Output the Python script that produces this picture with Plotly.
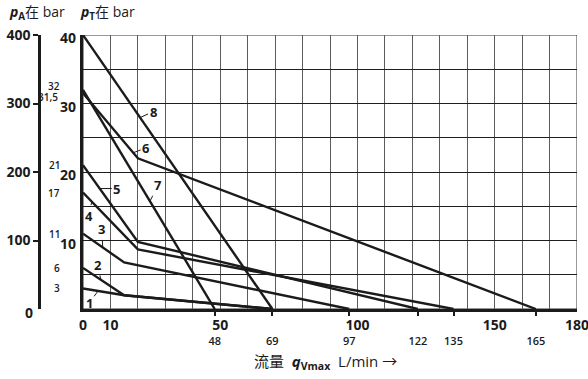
import numpy as np
import plotly.graph_objects as go

# Characteristic curves p_T over q_Vmax: start pressure, optional knee, end flow
curve_names = ["1", "2", "3", "4", "5", "6", "7", "8"]
start_pressure = [3, 6, 11, 17, 21, 31.5, 32, 40]          # bar at q = 0
knee_flow = [15, 15, 15, 20, 20, 20, None, None]           # L/min
knee_pressure = [2, 2, 6.8, 8.7, 9.8, 22, None, None]      # bar
end_flow = [69, 69, 97, 135, 122, 165, 48, 69]             # L/min at p_T = 0

# Small start-value labels on the p_T axis
start_labels = ["3", "6", "11", "17", "21", "31,5", "32"]
start_values = [3, 6, 11, 17, 21, 31.5, 32]

# Axis tick values
x_major = [0, 10, 50, 100, 150, 180]
y_labelled = [10, 20, 30, 40]
pa_ticks = [100, 200, 300, 400]

# Where each curve number sits (flow on the curve, text offset in px)
label_flow = [5.5, 6.5, 7.2, 3.2, 6.1, 18.3, 24.4, 20.8]
label_dx = [-9, -3, -1, -3, 17, 13, 8, 13]
label_dy = [12, -15, -18, 14, 0, -5, -16, -6]

W, H = 588, 379
L_PX, R_PX, T_PX, B_PX = 83, 577, 35, 309
INK = "#1b1b1b"
FONT = "Open Sans, Noto Sans CJK SC, DejaVu Sans"

fig = go.Figure()

for i, name in enumerate(curve_names):
    qs = [0]
    ps = [start_pressure[i]]
    if knee_flow[i] is not None:
        qs.append(knee_flow[i])
        ps.append(knee_pressure[i])
    qs.append(end_flow[i])
    ps.append(0)
    fig.add_trace(go.Scatter(x=qs, y=ps, mode="lines",
                             line=dict(color=INK, width=2.4),
                             showlegend=False, hoverinfo="skip"))
    qa = label_flow[i]
    pa = float(np.interp(qa, qs, ps))
    fig.add_annotation(x=qa, y=pa, text=name, showarrow=True, arrowhead=0,
                       arrowwidth=1, arrowcolor=INK, ax=label_dx[i], ay=label_dy[i],
                       standoff=0, font=dict(family=FONT, size=13, color=INK, weight=700))

# invisible carriers for the secondary axes
end_ticks = sorted(set(end_flow))
fig.add_trace(go.Scatter(x=end_ticks, y=[0] * len(end_ticks),
                         xaxis="x2", mode="markers", marker=dict(opacity=0),
                         showlegend=False, hoverinfo="skip"))
fig.add_trace(go.Scatter(x=[0] * len(start_pressure), y=[p * 10 for p in start_pressure],
                         yaxis="y2", mode="markers", marker=dict(opacity=0),
                         showlegend=False, hoverinfo="skip"))

# start-value ticks and labels left of the p_T axis
for lab, val in zip(start_labels, start_values):
    fig.add_shape(type="line", xref="x", yref="y", xsizemode="pixel", xanchor=0,
                  x0=-6, x1=0, y0=val, y1=val, line=dict(color=INK, width=1.3))
    shift = 4 if lab == "32" else (-4 if lab == "31,5" else 0)
    xs = -23 if lab == "31,5" else -21
    fig.add_annotation(x=0, y=val, xref="x", yref="y", text=lab, showarrow=False,
                       xanchor="right", xshift=xs, yshift=shift,
                       font=dict(family=FONT, size=10, color=INK, weight=600))

# p_T scale numbers, sitting just under their grid lines
for v in y_labelled:
    fig.add_annotation(x=0, y=v, xref="x", yref="y", text=str(v), showarrow=False,
                       xanchor="right", xshift=-5, yshift=-2.5,
                       font=dict(family=FONT, size=14, color=INK, weight=700))

# thin frame round the grid
fig.add_shape(type="rect", xref="x", yref="y", x0=0, x1=180, y0=0, y1=40,
              line=dict(color="#333", width=1), layer="below")

x_ticks = list(range(0, 181, 10))
y_ticks = list(range(0, 41, 5))

fig.update_layout(
    width=W, height=H,
    margin=dict(l=0, r=0, t=T_PX, b=H - B_PX, autoexpand=False),
    paper_bgcolor="white", plot_bgcolor="white",
    font=dict(family=FONT, color=INK),
    xaxis=dict(domain=[L_PX / W, R_PX / W], range=[0, 180],
               tickmode="array", tickvals=x_ticks,
               ticktext=[str(v) if v in x_major else "" for v in x_ticks],
               showgrid=True, gridcolor="#5c5c5c", gridwidth=1,
               showline=True, linecolor=INK, linewidth=2.6,
               ticks="", zeroline=False, ticklabelstandoff=1,
               ticklabeloverflow="allow",
               tickfont=dict(family=FONT, size=14, color=INK, weight=700)),
    xaxis2=dict(overlaying="x", anchor="y", side="bottom", range=[0, 180],
                tickmode="array", tickvals=end_ticks,
                ticktext=[str(v) for v in end_ticks],
                ticks="outside", ticklen=6, tickwidth=1.5, tickcolor=INK,
                showgrid=False, showline=False, zeroline=False,
                ticklabelstandoff=16,
                tickfont=dict(family=FONT, size=11, color=INK, weight=600)),
    yaxis=dict(domain=[0, 1], range=[0, 40],
               tickmode="array", tickvals=y_ticks,
               showticklabels=False,
               showgrid=True, gridcolor="#1e1e1e", gridwidth=1,
               showline=True, linecolor=INK, linewidth=2.6,
               ticks="", zeroline=False),
    yaxis2=dict(overlaying="y", anchor="free", position=39.3 / W, side="left",
                range=[0, 400], tickmode="array", tickvals=pa_ticks,
                ticks="outside", ticklen=5, tickwidth=1.5, tickcolor=INK,
                showgrid=False, showline=True, linecolor=INK, linewidth=3,
                zeroline=False, ticklabeloverflow="allow",
                tickfont=dict(family=FONT, size=14, color=INK, weight=700)),
)

# lone zero of the p_A scale
fig.add_annotation(x=22.7 / W, y=0, xref="paper", yref="y", text="0", showarrow=False,
                   yshift=-3, font=dict(family=FONT, size=14, color=INK, weight=700))

# axis headings
fig.add_annotation(x=7 / W, y=1 + (T_PX - 13) / (B_PX - T_PX), xref="paper", yref="paper",
                   xanchor="left", yanchor="middle", showarrow=False,
                   text="<b><i>p</i></b><sub><b>A</b></sub>在 bar",
                   font=dict(family=FONT, size=14, color=INK))
fig.add_annotation(x=78 / W, y=1 + (T_PX - 13) / (B_PX - T_PX), xref="paper", yref="paper",
                   xanchor="left", yanchor="middle", showarrow=False,
                   text="<b><i>p</i></b><sub><b>T</b></sub>在 bar",
                   font=dict(family=FONT, size=14, color=INK))
fig.add_annotation(x=325.5 / W, y=(B_PX - 361.7) / (B_PX - T_PX), xref="paper", yref="paper",
                   xanchor="center", yanchor="middle", showarrow=False,
                   text="流量  <b><i>q</i></b><sub><b>Vmax</b></sub>  L/min →",
                   font=dict(family=FONT, size=15, color=INK))

fig.write_html("out.html")
